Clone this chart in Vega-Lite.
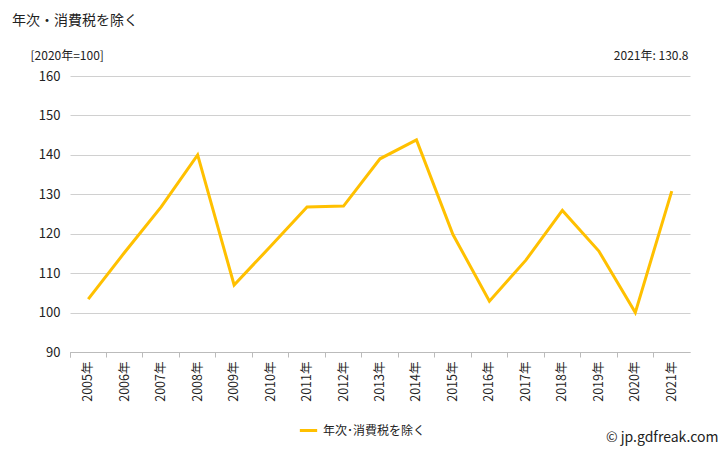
{
  "$schema": "https://vega.github.io/schema/vega-lite/v6.json",
  "width": 620,
  "height": 276,
  "autosize": {"type": "none"},
  "padding": {"left": 70, "top": 76, "right": 38, "bottom": 98},
  "background": "#ffffff",
  "config": {
    "font": "Noto Sans CJK JP",
    "view": {"stroke": null}
  },
  "title": {
    "text": "年次・消費税を除く",
    "anchor": "start",
    "frame": "group",
    "dx": -58,
    "fontSize": 14,
    "fontWeight": "normal",
    "color": "#222222",
    "offset": 21
  },
  "data": {
    "values": [
      {"year": "2005年", "value": 103.4, "series": "年次･消費税を除く"},
      {"year": "2006年", "value": 115.3, "series": "年次･消費税を除く"},
      {"year": "2007年", "value": 126.8, "series": "年次･消費税を除く"},
      {"year": "2008年", "value": 140.0, "series": "年次･消費税を除く"},
      {"year": "2009年", "value": 107.0, "series": "年次･消費税を除く"},
      {"year": "2010年", "value": 116.8, "series": "年次･消費税を除く"},
      {"year": "2011年", "value": 126.8, "series": "年次･消費税を除く"},
      {"year": "2012年", "value": 127.0, "series": "年次･消費税を除く"},
      {"year": "2013年", "value": 139.0, "series": "年次･消費税を除く"},
      {"year": "2014年", "value": 143.8, "series": "年次･消費税を除く"},
      {"year": "2015年", "value": 119.8, "series": "年次･消費税を除く"},
      {"year": "2016年", "value": 102.9, "series": "年次･消費税を除く"},
      {"year": "2017年", "value": 113.3, "series": "年次･消費税を除く"},
      {"year": "2018年", "value": 125.9, "series": "年次･消費税を除く"},
      {"year": "2019年", "value": 115.6, "series": "年次･消費税を除く"},
      {"year": "2020年", "value": 100.0, "series": "年次･消費税を除く"},
      {"year": "2021年", "value": 130.8, "series": "年次･消費税を除く"}
    ]
  },
  "encoding": {
    "x": {
      "field": "year",
      "type": "ordinal",
      "scale": {"type": "band", "paddingInner": 0, "paddingOuter": 0},
      "title": "© jp.gdfreak.com",
      "axis": {
        "labelAngle": -90,
        "labelAlign": "right",
        "labelBaseline": "middle",
        "labelFontSize": 12.5,
        "labelColor": "#222222",
        "labelPadding": 4,
        "domainColor": "#bbbbbb",
        "tickColor": "#bbbbbb",
        "tickSize": 5,
        "bandPosition": 0,
        "tickExtra": true,
        "grid": false,
        "titleX": 648,
        "titleY": 85,
        "titleAlign": "right",
        "titleBaseline": "middle",
        "titleFontSize": 14,
        "titleFontWeight": "normal",
        "titleColor": "#222222"
      }
    },
    "y": {
      "field": "value",
      "type": "quantitative",
      "scale": {"domain": [90, 160], "nice": false, "zero": false}
    }
  },
  "layer": [
    {
      "mark": {"type": "line", "strokeWidth": 3, "strokeJoin": "miter"},
      "encoding": {
        "y": {
          "field": "value",
          "type": "quantitative",
          "title": "[2020年=100]",
          "axis": {
            "values": [90, 100, 110, 120, 130, 140, 150, 160],
            "labelFontSize": 13,
            "labelColor": "#222222",
            "labelPadding": 10,
            "ticks": false,
            "domain": false,
            "gridColor": "#d0d0d0",
            "titleAngle": 0,
            "titleX": -40,
            "titleY": -21,
            "titleAlign": "left",
            "titleBaseline": "middle",
            "titleFontSize": 12,
            "titleFontWeight": "normal",
            "titleColor": "#222222"
          }
        },
        "color": {
          "field": "series",
          "type": "nominal",
          "scale": {"range": ["#FFC000"]},
          "legend": {
            "title": null,
            "orient": "none",
            "legendX": 228,
            "legendY": 344,
            "symbolType": "stroke",
            "symbolStrokeWidth": 3,
            "symbolSize": 300,
            "labelFontSize": 12,
            "labelColor": "#222222"
          }
        }
      }
    },
    {
      "mark": {"type": "line", "strokeOpacity": 0},
      "encoding": {
        "y": {
          "field": "value",
          "type": "quantitative",
          "title": "2021年: 130.8",
          "axis": {
            "orient": "right",
            "labels": false,
            "ticks": false,
            "domain": false,
            "grid": false,
            "titleAngle": 0,
            "titleX": -2,
            "titleY": -21,
            "titleAlign": "right",
            "titleBaseline": "middle",
            "titleFontSize": 12,
            "titleFontWeight": "normal",
            "titleColor": "#222222"
          }
        }
      }
    }
  ],
  "resolve": {"axis": {"y": "independent"}}
}
